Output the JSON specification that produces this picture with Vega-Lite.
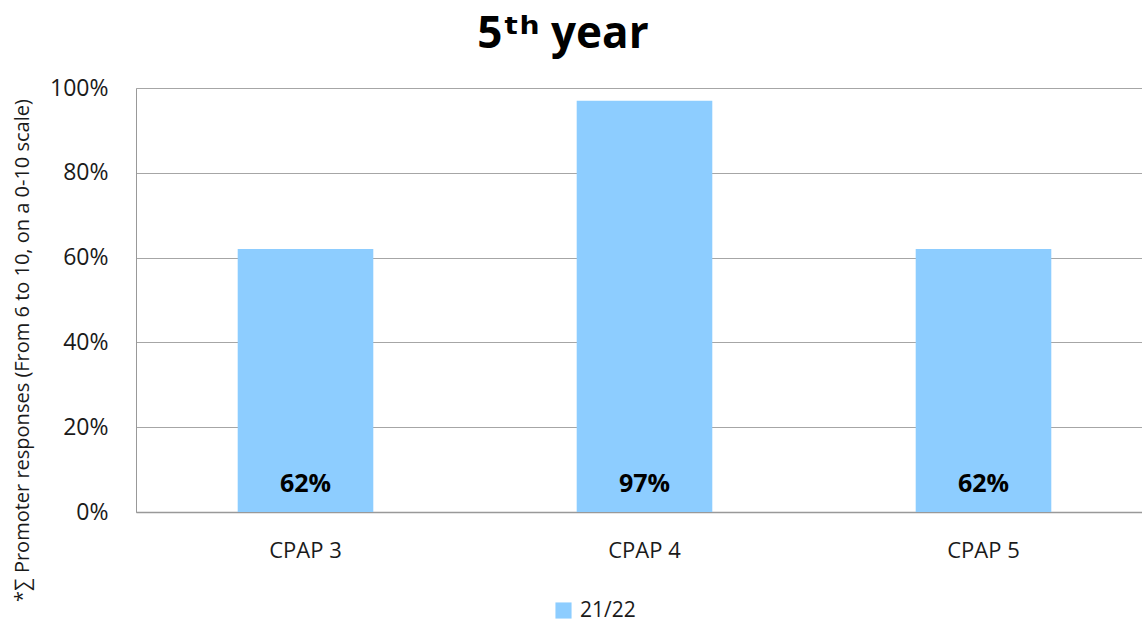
{
  "$schema": "https://vega.github.io/schema/vega-lite/v6.json",
  "width": 1006,
  "height": 424,
  "autosize": {"type": "none"},
  "padding": {"left": 136, "top": 88, "right": 0, "bottom": 114},
  "background": "white",
  "title": {
    "text": "5ᵗʰ year",
    "font": "'Open Sans', 'DejaVu Sans', sans-serif",
    "fontSize": 44,
    "fontWeight": "bold",
    "color": "#000000",
    "anchor": "middle",
    "dx": -76,
    "offset": 20
  },
  "data": {
    "values": [
      {"group": "CPAP 3", "year": "21/22", "value": 0.62},
      {"group": "CPAP 4", "year": "21/22", "value": 0.97},
      {"group": "CPAP 5", "year": "21/22", "value": 0.62}
    ]
  },
  "encoding": {
    "x": {
      "field": "group",
      "type": "nominal",
      "sort": null,
      "scale": {"paddingInner": 0.6, "paddingOuter": 0.3, "range": [0, 1017]},
      "axis": {
        "title": null,
        "labelAngle": 0,
        "labelFont": "Open Sans",
        "labelFontSize": 22,
        "labelColor": "#1a1a1a",
        "labelPadding": 28,
        "ticks": false,
        "domainColor": "#999999",
        "domainWidth": 1.5,
        "grid": false
      }
    }
  },
  "layer": [
    {
      "mark": {"type": "bar", "color": "#8dcdff"},
      "encoding": {
        "y": {
          "field": "value",
          "type": "quantitative",
          "scale": {"domain": [0, 1]},
          "axis": {
            "title": "*∑ Promoter responses (From 6 to 10, on a 0-10 scale)",
            "titleFont": "Open Sans",
            "titleFontSize": 20,
            "titleFontWeight": "normal",
            "titleColor": "#1a1a1a",
            "titleX": -114,
            "titleY": 262,
            "titleAngle": -90,
            "titleAlign": "center",
            "titleBaseline": "middle",
            "format": ".0%",
            "values": [0, 0.2, 0.4, 0.6, 0.8, 1],
            "labelFont": "Open Sans",
            "labelFontSize": 23,
            "labelColor": "#1a1a1a",
            "labelPadding": 28,
            "ticks": false,
            "domainColor": "#999999",
            "domainWidth": 1,
            "gridColor": "#a6a6a6",
            "gridWidth": 1
          }
        },
        "fill": {
          "field": "year",
          "type": "nominal",
          "scale": {"range": ["#8dcdff"]},
          "legend": {
            "title": null,
            "orient": "none",
            "legendX": 417,
            "legendY": 512,
            "symbolType": "square",
            "symbolSize": 260,
            "symbolStrokeWidth": 0,
            "labelFont": "Open Sans",
            "labelFontSize": 21,
            "labelColor": "#1a1a1a",
            "labelOffset": 6
          }
        }
      }
    },
    {
      "mark": {"type": "text", "font": "Open Sans", "fontSize": 25, "fontWeight": "bold", "color": "#000000", "baseline": "middle", "dy": -28},
      "encoding": {
        "y": {"datum": 0, "type": "quantitative"},
        "text": {"field": "value", "type": "quantitative", "format": ".0%"}
      }
    }
  ]
}
